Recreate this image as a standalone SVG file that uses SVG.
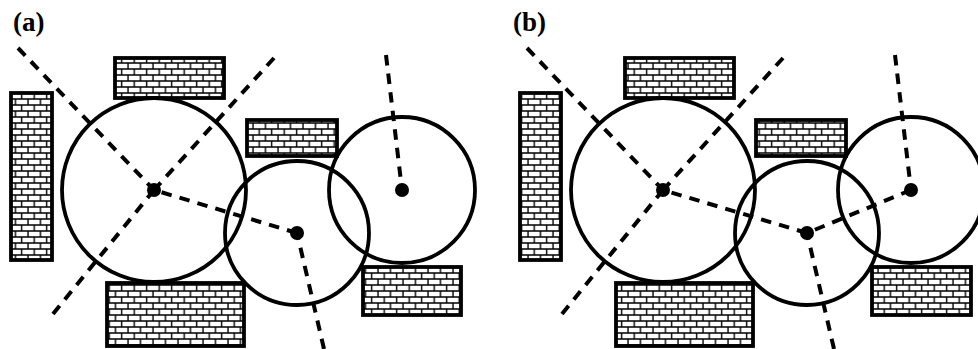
<svg xmlns="http://www.w3.org/2000/svg" width="978" height="349" viewBox="0 0 978 349">
<style>
.wall{fill:url(#brick);stroke:#000;stroke-width:3.8}
.range{fill:none;stroke:#000;stroke-width:3.8}
.hub{fill:#000}
.link{fill:none;stroke:#000;stroke-width:4;stroke-dasharray:10.5 8.2}
.label{font-family:"Liberation Serif",serif;font-weight:bold;font-size:27px;fill:#000}
</style>
<defs>
<pattern id="brick" patternUnits="userSpaceOnUse" x="0" y="0" width="12.5" height="12">
<rect width="12.5" height="12" fill="#fff"/>
<path d="M0 3H12.5M0 9H12.5M3 3V9M9.2 -3V3M9.2 9V15" fill="none" stroke="#000" stroke-width="1.4"/>
</pattern>
</defs>
<rect width="978" height="349" fill="#fff"/>
<g id="connectors">
<path class="link" d="M18 48L154 190"/>
<path class="link" d="M274 58L154 190"/>
<path class="link" d="M53 314L154 190"/>
<path class="link" d="M297 233L154 190"/>
<path class="link" d="M324 349L297 233"/>
<path class="link" d="M386 55L402 190"/>
<path class="link" d="M527 48L663 190"/>
<path class="link" d="M783 58L663 190"/>
<path class="link" d="M562 314L663 190"/>
<path class="link" d="M807 233L663 190"/>
<path class="link" d="M834 349L807 233"/>
<path class="link" d="M895 55L911 190"/>
<path class="link" d="M911 190L807 233"/>
</g>
<g id="label-a"><text class="label" x="13" y="31">(a)</text></g>
<g id="label-b"><text class="label" x="513" y="31">(b)</text></g>
<g id="a-wall-top"><rect class="wall" x="115" y="58" width="109" height="40"/></g>
<g id="a-wall-left"><rect class="wall" x="11" y="93" width="41" height="167"/></g>
<g id="a-wall-bottom"><rect class="wall" x="107" y="283" width="137" height="63"/></g>
<g id="a-wall-mid"><rect class="wall" x="247" y="120" width="90" height="36"/></g>
<g id="a-wall-right"><rect class="wall" x="363" y="267" width="98" height="48"/></g>
<g id="b-wall-top"><rect class="wall" x="625" y="58" width="109" height="40"/></g>
<g id="b-wall-left"><rect class="wall" x="520" y="93" width="41" height="167"/></g>
<g id="b-wall-bottom"><rect class="wall" x="616" y="283" width="137" height="63"/></g>
<g id="b-wall-mid"><rect class="wall" x="756" y="120" width="90" height="36"/></g>
<g id="b-wall-right"><rect class="wall" x="872" y="267" width="99" height="48"/></g>
<g id="a-node-1"><circle class="range" cx="154" cy="190" r="92"/><circle class="hub" cx="154" cy="190" r="7"/></g>
<g id="a-node-2"><circle class="range" cx="297" cy="233" r="72"/><circle class="hub" cx="297" cy="233" r="7"/></g>
<g id="a-node-3"><circle class="range" cx="402" cy="190" r="73"/><circle class="hub" cx="402" cy="190" r="7"/></g>
<g id="b-node-1"><circle class="range" cx="663" cy="190" r="92"/><circle class="hub" cx="663" cy="190" r="7"/></g>
<g id="b-node-2"><circle class="range" cx="807" cy="233" r="72"/><circle class="hub" cx="807" cy="233" r="7"/></g>
<g id="b-node-3"><circle class="range" cx="911" cy="190" r="73"/><circle class="hub" cx="911" cy="190" r="7"/></g>
</svg>
